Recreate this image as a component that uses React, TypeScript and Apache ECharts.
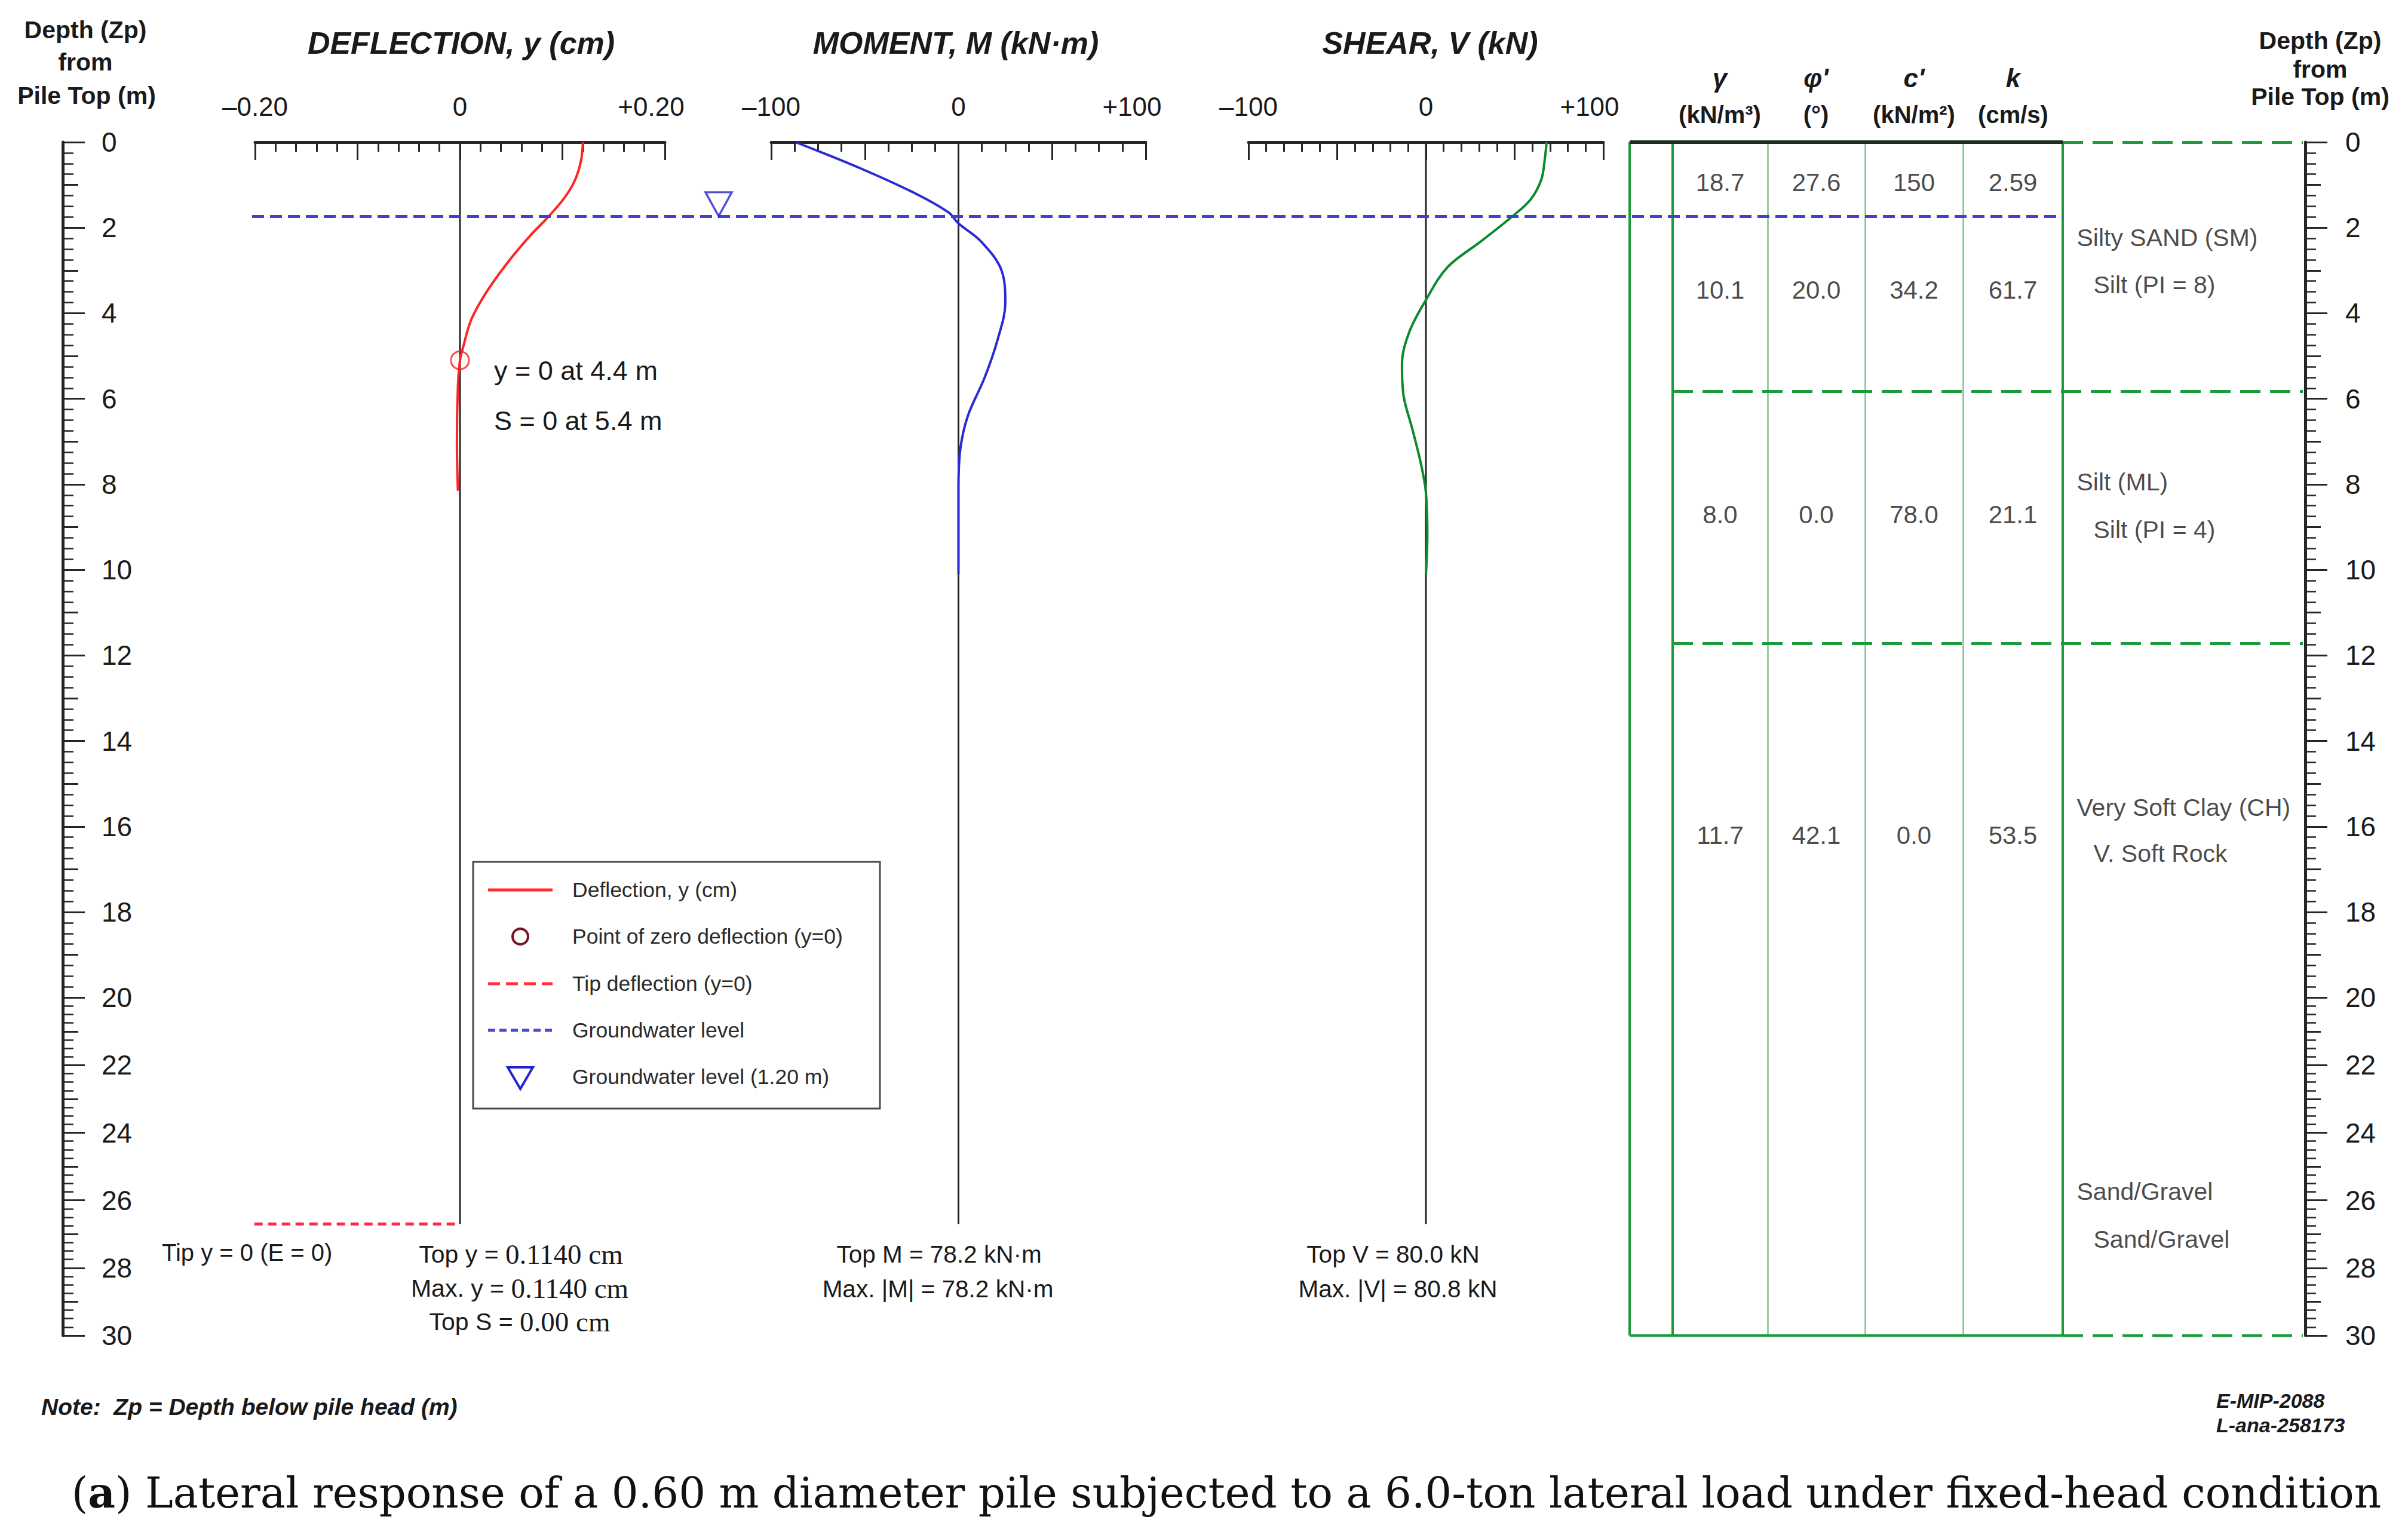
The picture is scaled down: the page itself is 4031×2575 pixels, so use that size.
import React, { useEffect, useRef } from 'react';
import * as echarts from 'echarts';

const W = 4031;
const H = 2575;
const FONT = '"Liberation Sans", Arial, Helvetica, sans-serif';
const SERIF = '"Liberation Serif", "Times New Roman", serif';
const CAPTION_SERIF = '"DejaVu Serif", "Liberation Serif", serif';

// ---------- depth scale (ruler is compressed below 20 m in the original) ----------
const DEPTH_BREAK = 20;
const LOWER_SCALE = 0.79;
const toU = (d: number) => (d <= DEPTH_BREAK ? d : DEPTH_BREAK + (d - DEPTH_BREAK) * LOWER_SCALE);
const fromU = (u: number) => (u <= DEPTH_BREAK ? u : DEPTH_BREAK + (u - DEPTH_BREAK) / LOWER_SCALE);
const DEPTH_MAX = 30;
const U_MAX = toU(DEPTH_MAX);

// ---------- ruler ticks ----------
const depthLabelTicks = [0, 2, 4, 6, 8, 10, 12, 14, 16, 18, 20, 22, 24, 26, 28, 30];
const depthMidTicks = [1, 3, 5, 7, 9, 11, 13, 15, 17, 19, 21, 23, 25, 27, 29];
const depthQuarterTicks: number[] = [];
for (let i = 0; i <= DEPTH_MAX * 4; i++) if (i % 4 !== 0) depthQuarterTicks.push(i / 4);

// ---------- series data (depth in m) ----------
const deflDepth = [0, 0.45, 0.9, 1.3, 1.75, 2.2, 2.8, 3.5, 4.15, 4.8, 5.1, 5.7, 7.0, 8.15];
const deflY = [0.12, 0.118, 0.112, 0.102, 0.086, 0.068, 0.047, 0.026, 0.011, 0.003, 0.0, -0.002, -0.003, -0.002];

const momentDepth = [0, 0.6, 1.2, 1.64, 1.9, 2.32, 3.0, 3.76, 4.6, 5.5, 6.4, 7.17, 8.07, 10.1];
const momentM = [-87, -53, -23, -5.4, 0, 12, 23, 25, 21, 14, 5, 1, 0, 0];

const shearDepth = [0, 0.4, 0.88, 1.34, 1.76, 2.32, 2.93, 3.69, 4.44, 5.2, 5.95, 6.7, 7.54, 8.2, 9.2, 10.1];
const shearV = [68, 67, 65, 59, 48, 31, 12, 0, -9.4, -13.5, -12.5, -7.7, -2.7, 0, 0.8, 0];

const zeroDeflDepth = 5.1;
const groundwaterDepth = 1.73;
const pileTipDepth = 26.7;
const tipDeflStart = -0.241;

// ---------- soil table ----------
const layerBoundaries = [5.82, 11.72];
const tableBottomDepth = 30;
const rowLabelDepths = [0.94, 3.46, 8.7, 16.2];
const gammaValues = ['18.7', '10.1', '8.0', '11.7'];
const phiValues = ['27.6', '20.0', '0.0', '42.1'];
const cValues = ['150', '34.2', '78.0', '0.0'];
const kValues = ['2.59', '61.7', '21.1', '53.5'];
const soilNames = ['Silty SAND (SM)', 'Silt (PI = 8)', 'Silt (ML)', 'Silt (PI = 4)', 'Very Soft Clay (CH)', 'V. Soft Rock', 'Sand/Gravel', 'Sand/Gravel'];
const soilDepths = [2.23, 3.34, 7.95, 9.06, 15.56, 16.63, 25.74, 27.15];
const soilIndented = [false, true, false, true, false, true, false, true];

// ---------- layout constants (pixels) ----------
const TOP = 238;
const PLOT_H = 1998;
const COL_X = [2728, 2800, 2959, 3122, 3286, 3453];
const TABLE_EXT_RIGHT = 3855;
const GW_LEFT = 422;
const GW_TRIANGLE_X = 1203;
const SOIL_X = 3476;
const SOIL_INDENT = 28;

const dark = '#262626';

function topAxis(gridIndex: number, min: number, max: number, interval: number, minorSplit: number, fmt: (v: number) => string) {
  return {
    gridIndex, type: 'value', position: 'top', min, max, interval,
    axisLine: { show: true, onZero: false, lineStyle: { color: dark, width: 5 } },
    axisTick: { show: true, inside: true, length: 30, lineStyle: { color: dark, width: 3 } },
    minorTick: { show: true, splitNumber: minorSplit, length: 16, lineStyle: { color: dark, width: 3 } },
    axisLabel: {
      show: true, margin: 38, formatter: fmt, fontSize: 44, color: '#1a1a1a', fontFamily: FONT, showMinLabel: true, showMaxLabel: true,
      rich: { r: { fontSize: 44, fontFamily: FONT, color: '#1a1a1a', padding: [0, 46, 0, 0] } },
    },
    splitLine: { show: false },
  };
}

function hiddenY(gridIndex: number) {
  return { gridIndex, type: 'value', min: 0, max: U_MAX, inverse: true, show: false, splitLine: { show: false } };
}

function rulerAxes(gridIndex: number, margin: number) {
  const base = { gridIndex, type: 'value', min: 0, max: U_MAX, inverse: true, position: 'left', splitLine: { show: false } };
  return [
    {
      ...base,
      axisLine: { show: true, onZero: false, lineStyle: { color: dark, width: 5 } },
      axisTick: { show: true, inside: true, length: 37, customValues: depthLabelTicks.map(toU), lineStyle: { color: dark, width: 3 } },
      axisLabel: {
        show: true, inside: true, margin, customValues: depthLabelTicks.map(toU),
        formatter: (v: number) => String(Math.round(fromU(v))),
        fontSize: 46, color: '#1a1a1a', fontFamily: FONT,
      },
    },
    {
      ...base,
      axisLine: { show: false },
      axisTick: { show: true, inside: true, length: 26, customValues: depthMidTicks.map(toU), lineStyle: { color: dark, width: 3 } },
      axisLabel: { show: false },
    },
    {
      ...base,
      axisLine: { show: false },
      axisTick: { show: true, inside: true, length: 18, customValues: depthQuarterTicks.map(toU), lineStyle: { color: dark, width: 2.5 } },
      axisLabel: { show: false },
    },
  ];
}

const fmtDefl = (v: number) => (Math.abs(v) < 1e-9 ? '0' : Math.abs(v + 0.2) < 1e-9 ? '–0.20' : Math.abs(v - 0.2) < 1e-9 ? '{r|+0.20}' : '');
const fmtHundred = (v: number) => (v === 0 ? '0' : v === -100 ? '–100' : v === 100 ? '{r|+100}' : '');

function txt(x: number, y: number, text: string, fontSize: number, extra: any = {}) {
  return {
    type: 'text', x, y, silent: true, z: 30,
    style: { text, fontSize, fontFamily: FONT, fill: '#1a1a1a', align: 'center', verticalAlign: 'middle', ...extra },
  };
}

function mixed(x: number, y: number, a: string, b: string) {
  return {
    type: 'text', x, y, silent: true, z: 30,
    style: {
      text: `{a|${a}}{b|${b}}`, align: 'center', verticalAlign: 'middle',
      rich: { a: { fontSize: 41, fontFamily: FONT, fill: '#1a1a1a' }, b: { fontSize: 47, fontFamily: SERIF, fill: '#1a1a1a' } },
    },
  };
}

function buildOption() {
  const pileU = toU(pileTipDepth);
  const gwU = toU(groundwaterDepth);
  const bottomU = toU(tableBottomDepth);

  const pileLine = (idx: number) => ({
    type: 'line', xAxisIndex: idx, yAxisIndex: idx, symbol: 'none', silent: true, z: 2,
    lineStyle: { color: dark, width: 3 },
    data: [[0, 0], [0, pileU]],
  });

  const seg = (x1: number, u1: number, x2: number, u2: number) => ({ coords: [[x1, u1], [x2, u2]] });
  const linesSeries = (data: any[], lineStyle: any, z = 3) => ({
    type: 'lines', coordinateSystem: 'cartesian2d', xAxisIndex: 3, yAxisIndex: 3, polyline: false,
    silent: true, z, lineStyle, data, effect: { show: false },
  });

  const colCenters = [0, 1, 2, 3].map((i) => (COL_X[i + 1] + COL_X[i + 2]) / 2);
  const tableCols = [gammaValues, phiValues, cValues, kValues];
  const tableTextData: any[] = [];
  tableCols.forEach((col, ci) => col.forEach((v, ri) => tableTextData.push({ name: v, value: [colCenters[ci], toU(rowLabelDepths[ri])] })));

  const soilData = soilNames.map((n, i) => ({ name: n, value: [SOIL_X + (soilIndented[i] ? SOIL_INDENT : 0), toU(soilDepths[i])] }));

  const green = '#1c9a3c';
  const greenLight = '#79c489';

  const series: any[] = [
    pileLine(0), pileLine(1), pileLine(2),
    {
      type: 'line', xAxisIndex: 0, yAxisIndex: 0, symbol: 'none', smooth: 0.35, z: 5,
      lineStyle: { color: '#ff2424', width: 4 },
      data: deflDepth.map((d, i) => [deflY[i], toU(d)]),
    },
    {
      type: 'scatter', xAxisIndex: 0, yAxisIndex: 0, symbol: 'circle', symbolSize: 30, z: 6,
      itemStyle: { color: 'rgba(0,0,0,0)', borderColor: '#ee2020', borderWidth: 3 },
      data: [[0, toU(zeroDeflDepth)]],
    },
    {
      type: 'line', xAxisIndex: 0, yAxisIndex: 0, symbol: 'none', clip: false, z: 5,
      lineStyle: { color: '#ff2a44', width: 5, type: [14, 9] },
      data: [[tipDeflStart, pileU], [0, pileU]],
    },
    {
      type: 'line', xAxisIndex: 1, yAxisIndex: 1, symbol: 'none', smooth: 0.35, z: 5,
      lineStyle: { color: '#2a2ad4', width: 4 },
      data: momentDepth.map((d, i) => [momentM[i], toU(d)]),
    },
    {
      type: 'line', xAxisIndex: 2, yAxisIndex: 2, symbol: 'none', smooth: 0.35, z: 5,
      lineStyle: { color: '#0b8a2c', width: 4 },
      data: shearDepth.map((d, i) => [shearV[i], toU(d)]),
    },
    linesSeries([seg(COL_X[0], 0, COL_X[0], bottomU), seg(COL_X[1], 0, COL_X[1], bottomU), seg(COL_X[5], 0, COL_X[5], bottomU)], { color: green, width: 4, opacity: 1 }),
    linesSeries([seg(COL_X[2], 0, COL_X[2], bottomU), seg(COL_X[3], 0, COL_X[3], bottomU), seg(COL_X[4], 0, COL_X[4], bottomU)], { color: greenLight, width: 2.5, opacity: 1 }),
    linesSeries([seg(COL_X[0], 0, COL_X[5], 0)], { color: '#1d2b1f', width: 6, opacity: 1 }, 4),
    linesSeries([seg(COL_X[0], bottomU, COL_X[5], bottomU)], { color: green, width: 4, opacity: 1 }, 4),
    linesSeries(
      [seg(COL_X[5], 0, TABLE_EXT_RIGHT, 0), seg(COL_X[5], bottomU, TABLE_EXT_RIGHT, bottomU),
        ...layerBoundaries.map((d) => seg(COL_X[1], toU(d), TABLE_EXT_RIGHT, toU(d)))],
      { color: green, width: 5, type: [34, 16], opacity: 1 }, 4),
    linesSeries([seg(GW_LEFT, gwU, COL_X[5], gwU)], { color: '#3f3fd0', width: 5, type: [20, 10], opacity: 1 }, 6),
    {
      type: 'scatter', xAxisIndex: 3, yAxisIndex: 3, z: 7,
      symbol: 'path://M0,0 L44,0 L22,40 Z', symbolSize: [44, 40], symbolOffset: [0, -20],
      itemStyle: { color: 'rgba(255,255,255,0)', borderColor: '#2323d0', borderWidth: 3.5 },
      data: [[GW_TRIANGLE_X, gwU]],
    },
    {
      type: 'scatter', xAxisIndex: 3, yAxisIndex: 3, symbol: 'circle', symbolSize: 1, silent: true, z: 8,
      itemStyle: { color: 'rgba(0,0,0,0)' },
      label: { show: true, position: 'inside', formatter: '{b}', fontSize: 42, color: '#1a1a1a', fontFamily: FONT },
      data: tableTextData,
    },
    {
      type: 'scatter', xAxisIndex: 3, yAxisIndex: 3, symbol: 'circle', symbolSize: 1, silent: true, z: 8,
      itemStyle: { color: 'rgba(0,0,0,0)' },
      label: { show: true, position: 'right', distance: 0, formatter: '{b}', fontSize: 41, color: '#1a1a1a', fontFamily: FONT },
      data: soilData,
    },
  ];

  const legendX = 792, legendY = 1443, legendW = 681, legendH = 413;
  const legRows = [1490, 1568, 1647, 1725, 1803];
  const lx1 = 817, lx2 = 925, lcx = 871, ltx = 958;
  const legendFont = 35.5;

  const graphic: any[] = [
    txt(143, 50, 'Depth (Zp)', 41, { fontWeight: 'bold' }),
    txt(143, 104, 'from', 41, { fontWeight: 'bold' }),
    txt(145, 160, 'Pile Top (m)', 41, { fontWeight: 'bold' }),
    txt(3884, 68, 'Depth (Zp)', 41, { fontWeight: 'bold' }),
    txt(3884, 116, 'from', 41, { fontWeight: 'bold' }),
    txt(3884, 162, 'Pile Top (m)', 41, { fontWeight: 'bold' }),
    txt(772, 72, 'DEFLECTION, y (cm)', 52, { fontWeight: 'bold', fontStyle: 'italic' }),
    txt(1600, 72, 'MOMENT, M (kN·m)', 52, { fontWeight: 'bold', fontStyle: 'italic' }),
    txt(2394, 72, 'SHEAR, V (kN)', 52, { fontWeight: 'bold', fontStyle: 'italic' }),
    txt(2879, 130, 'γ', 44, { fontWeight: 'bold', fontStyle: 'italic' }),
    txt(3040, 130, "φ'", 44, { fontWeight: 'bold', fontStyle: 'italic' }),
    txt(3204, 130, "c'", 44, { fontWeight: 'bold', fontStyle: 'italic' }),
    txt(3370, 130, 'k', 44, { fontWeight: 'bold', fontStyle: 'italic' }),
    txt(2879, 192, '(kN/m³)', 40, { fontWeight: 'bold' }),
    txt(3040, 192, '(°)', 40, { fontWeight: 'bold' }),
    txt(3204, 192, '(kN/m²)', 40, { fontWeight: 'bold' }),
    txt(3370, 192, '(cm/s)', 40, { fontWeight: 'bold' }),
    txt(827, 620, 'y = 0 at 4.4 m', 45, { align: 'left' }),
    txt(827, 704, 'S = 0 at 5.4 m', 45, { align: 'left' }),
    txt(271, 2097, 'Tip y = 0 (E = 0)', 40, { align: 'left' }),
    mixed(872, 2100, 'Top y = ', '0.1140 cm'),
    mixed(870, 2157, 'Max. y = ', '0.1140 cm'),
    mixed(870, 2213, 'Top S = ', '0.00 cm'),
    txt(1572, 2100, 'Top M = 78.2 kN·m', 40.5),
    txt(1570, 2158, 'Max. |M| = 78.2 kN·m', 40.5),
    txt(2332, 2100, 'Top V = 80.0 kN', 40.5),
    txt(2340, 2158, 'Max. |V| = 80.8 kN', 40.5),
    txt(69, 2355, 'Note:  Zp = Depth below pile head (m)', 39, { align: 'left', fontWeight: 'bold', fontStyle: 'italic' }),
    txt(3710, 2345, 'E-MIP-2088', 34, { align: 'left', fontWeight: 'bold', fontStyle: 'italic' }),
    txt(3710, 2386, 'L-ana-258173', 34, { align: 'left', fontWeight: 'bold', fontStyle: 'italic' }),
    {
      type: 'text', x: 2053, y: 2499, silent: true, z: 30,
      style: {
        text: '{p|(}{b|a}{p|) Lateral response of a 0.60 m diameter pile subjected to a 6.0-ton lateral load under fixed-head condition}',
        align: 'center', verticalAlign: 'middle',
        rich: { p: { fontSize: 70.6, fontFamily: CAPTION_SERIF, fill: '#111' }, b: { fontSize: 70.6, fontFamily: CAPTION_SERIF, fontWeight: 'bold', fill: '#111' } },
      },
    },
    { type: 'rect', z: 25, silent: true, shape: { x: legendX, y: legendY, width: legendW, height: legendH }, style: { fill: '#fff', stroke: '#4a4a4a', lineWidth: 3 } },
    { type: 'line', z: 26, silent: true, shape: { x1: lx1, y1: legRows[0], x2: lx2, y2: legRows[0] }, style: { stroke: '#ff2a2a', lineWidth: 5 } },
    { type: 'circle', z: 26, silent: true, shape: { cx: lcx, cy: legRows[1], r: 13 }, style: { fill: 'none', stroke: '#7a1222', lineWidth: 4 } },
    { type: 'line', z: 26, silent: true, shape: { x1: lx1, y1: legRows[2], x2: lx2, y2: legRows[2] }, style: { stroke: '#ff3040', lineWidth: 5, lineDash: [20, 10] } },
    { type: 'line', z: 26, silent: true, shape: { x1: lx1, y1: legRows[3], x2: lx2, y2: legRows[3] }, style: { stroke: '#4a4ad0', lineWidth: 5, lineDash: [12, 7] } },
    { type: 'polygon', z: 26, silent: true, shape: { points: [[lcx - 21, legRows[4] - 16], [lcx + 21, legRows[4] - 16], [lcx, legRows[4] + 20]] }, style: { fill: 'none', stroke: '#2323d0', lineWidth: 4 } },
    txt(ltx, legRows[0], 'Deflection, y (cm)', legendFont, { align: 'left', fill: '#2a2a2a' }),
    txt(ltx, legRows[1], 'Point of zero deflection (y=0)', legendFont, { align: 'left', fill: '#2a2a2a' }),
    txt(ltx, legRows[2], 'Tip deflection (y=0)', legendFont, { align: 'left', fill: '#2a2a2a' }),
    txt(ltx, legRows[3], 'Groundwater level', legendFont, { align: 'left', fill: '#2a2a2a' }),
    txt(ltx, legRows[4], 'Groundwater level (1.20 m)', legendFont, { align: 'left', fill: '#2a2a2a' }),
  ];

  return {
    animation: false,
    backgroundColor: '#ffffff',
    textStyle: { fontFamily: FONT },
    grid: [
      { left: 427, top: TOP, width: 686, height: PLOT_H },
      { left: 1291, top: TOP, width: 627, height: PLOT_H },
      { left: 2090, top: TOP, width: 594, height: PLOT_H },
      { left: 0, top: TOP, width: W, height: PLOT_H },
      { left: 105, top: TOP, width: 2, height: PLOT_H },
      { left: 3859, top: TOP, width: 2, height: PLOT_H },
    ],
    xAxis: [
      topAxis(0, -0.2, 0.2, 0.1, 5, fmtDefl),
      topAxis(1, -100, 100, 50, 4, fmtHundred),
      topAxis(2, -100, 100, 50, 5, fmtHundred),
      { gridIndex: 3, type: 'value', min: 0, max: W, show: false, splitLine: { show: false } },
      { gridIndex: 4, type: 'value', min: 0, max: 1, show: false, splitLine: { show: false } },
      { gridIndex: 5, type: 'value', min: 0, max: 1, show: false, splitLine: { show: false } },
    ],
    yAxis: [
      hiddenY(0), hiddenY(1), hiddenY(2), hiddenY(3),
      ...rulerAxes(4, 65),
      ...rulerAxes(5, 67),
    ],
    series,
    graphic,
  };
}

export default function App() {
  const ref = useRef<HTMLDivElement>(null);
  useEffect(() => {
    if (!ref.current) return;
    const chart = echarts.init(ref.current, null, { renderer: 'svg', width: W, height: H });
    chart.setOption(buildOption() as any);
    return () => chart.dispose();
  }, []);
  return <div ref={ref} style={{ position: 'absolute', left: 0, top: 0, width: W, height: H, background: '#fff' }} />;
}
